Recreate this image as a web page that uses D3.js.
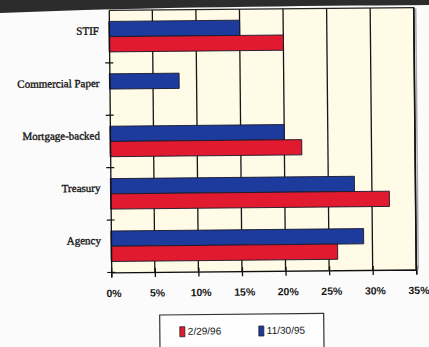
<!DOCTYPE html>
<html>
<head>
<meta charset="utf-8">
<script src="https://cdn.jsdelivr.net/npm/d3@7/dist/d3.min.js"></script>
<style>
  html, body { margin: 0; padding: 0; background: #fbfbfb; }
  svg { display: block; }
</style>
</head>
<body>
<svg id="chart" width="429" height="347"></svg>
<script>
// Portfolio composition by sector, two reporting dates
const categories = ["STIF", "Commercial Paper", "Mortgage-backed", "Treasury", "Agency"];
const seriesNames = ["11/30/95", "2/29/96"];
const values1195 = [15, 8, 20, 28, 29];   // 11/30/95
const values0296 = [20, 0, 22, 32, 26];   // 2/29/96
const xTicks = [0, 5, 10, 15, 20, 25, 30, 35];
const legendOrder = ["2/29/96", "11/30/95"];

const colors = { "11/30/95": "#1d3b9c", "2/29/96": "#e11a30" };
const seriesValues = { "11/30/95": values1195, "2/29/96": values0296 };

const svg = d3.select("#chart");
const W = 429, H = 347;

// dark strip across the top edge
svg.append("path")
  .attr("d", "M0,0 L429,0 L429,5 C300,6 150,7 0,13 Z")
  .attr("fill", "#2c2c2c");

const margin = { left: 110, right: 14, top: 9, bottom: 76 };
const plotL = margin.left, plotR = W - margin.right;
const plotT = margin.top, plotB = H - margin.bottom;

const g = svg.append("g").attr("transform", "rotate(-0.55, 262, 140)");

const x = d3.scaleLinear().domain([0, 35]).range([plotL, plotR]);
const y = d3.scaleBand().domain(categories).range([plotT, plotB]).paddingInner(0).paddingOuter(0);
const ySub = d3.scaleBand().domain(seriesNames).range([0, y.bandwidth()]).paddingInner(0).paddingOuter(0.72);

// plot background
g.append("rect")
  .attr("x", plotL).attr("y", plotT)
  .attr("width", plotR - plotL).attr("height", plotB - plotT)
  .attr("fill", "#fffbe7");

// vertical gridlines
g.append("g").selectAll("line")
  .data(xTicks.slice(1))
  .join("line")
  .attr("x1", d => x(d)).attr("x2", d => x(d))
  .attr("y1", plotT).attr("y2", plotB)
  .attr("stroke", "#161616").attr("stroke-width", 1.3);

// top border
g.append("line")
  .attr("x1", plotL).attr("x2", plotR)
  .attr("y1", plotT).attr("y2", plotT)
  .attr("stroke", "#222").attr("stroke-width", 1.2);

// right border shadow
g.append("line")
  .attr("x1", plotR + 2).attr("x2", plotR + 2)
  .attr("y1", plotT + 1).attr("y2", plotB)
  .attr("stroke", "#aaa").attr("stroke-width", 1.5);

// bars
const groups = g.append("g").selectAll("g")
  .data(categories)
  .join("g")
  .attr("transform", d => `translate(0,${y(d)})`);

groups.selectAll("rect")
  .data((c, i) => seriesNames.map(s => ({ s, v: seriesValues[s][i] })).filter(d => d.v > 0))
  .join("rect")
  .attr("x", x(0))
  .attr("y", d => ySub(d.s))
  .attr("width", d => x(d.v) - x(0))
  .attr("height", ySub.bandwidth())
  .attr("fill", d => colors[d.s])
  .attr("stroke", "#1a1a2a")
  .attr("stroke-width", 0.9);

// x axis
const xAxis = d3.axisBottom(x)
  .tickValues(xTicks)
  .tickFormat(d => d + "%")
  .tickSize(5)
  .tickPadding(12);

const xg = g.append("g")
  .attr("transform", `translate(0,${plotB})`)
  .call(xAxis);
xg.select(".domain").attr("stroke", "#111").attr("stroke-width", 1.3);
xg.selectAll(".tick line").attr("y1", -4).attr("stroke", "#111").attr("stroke-width", 1.3);
xg.selectAll(".tick text")
  .attr("font-family", "'Liberation Sans', Arial, sans-serif")
  .attr("font-size", 10.5)
  .attr("font-weight", "bold")
  .attr("fill", "#151515")
  .attr("dx", 2);

// y axis: category labels with tick marks at band boundaries
const yAxis = d3.axisLeft(y).tickSize(0).tickPadding(10);
const yg = g.append("g")
  .attr("transform", `translate(${plotL},0)`)
  .call(yAxis);
yg.select(".domain").attr("stroke", "#111").attr("stroke-width", 1.3);
yg.selectAll(".tick text")
  .attr("font-family", "'Liberation Serif', 'Times New Roman', serif")
  .attr("font-size", 11)
  .attr("fill", "#151515")
  .attr("stroke", "#151515")
  .attr("stroke-width", 0.35)
  .attr("dy", "-0.2em");

const boundaries = categories.slice(1).map(c => y(c)).concat([plotB]);
yg.append("g").selectAll("line")
  .data(boundaries)
  .join("line")
  .attr("x1", -4).attr("x2", 4)
  .attr("y1", d => d).attr("y2", d => d)
  .attr("stroke", "#111").attr("stroke-width", 1.2);

// right border
g.append("line")
  .attr("x1", plotR).attr("x2", plotR)
  .attr("y1", plotT).attr("y2", plotB)
  .attr("stroke", "#111").attr("stroke-width", 1.6);

// legend
const legend = g.append("g").attr("transform", "translate(158,314)");
legend.append("rect")
  .attr("x", 0).attr("y", 0)
  .attr("width", 164).attr("height", 40)
  .attr("fill", "#fefefe")
  .attr("stroke", "#333").attr("stroke-width", 1.2);

const legendX = d3.scaleOrdinal().domain(legendOrder).range([20, 99]);
const items = legend.selectAll("g.item")
  .data(legendOrder)
  .join("g")
  .attr("class", "item")
  .attr("transform", d => `translate(${legendX(d)},12)`);
items.append("rect")
  .attr("width", 5).attr("height", 10)
  .attr("fill", d => colors[d])
  .attr("stroke", "#222").attr("stroke-width", 0.8);
items.append("text")
  .attr("x", 8).attr("y", 8)
  .attr("font-family", "'Liberation Sans', Arial, sans-serif")
  .attr("font-size", 10)
  .attr("fill", "#151515")
  .text(d => d);
</script>
</body>
</html>
